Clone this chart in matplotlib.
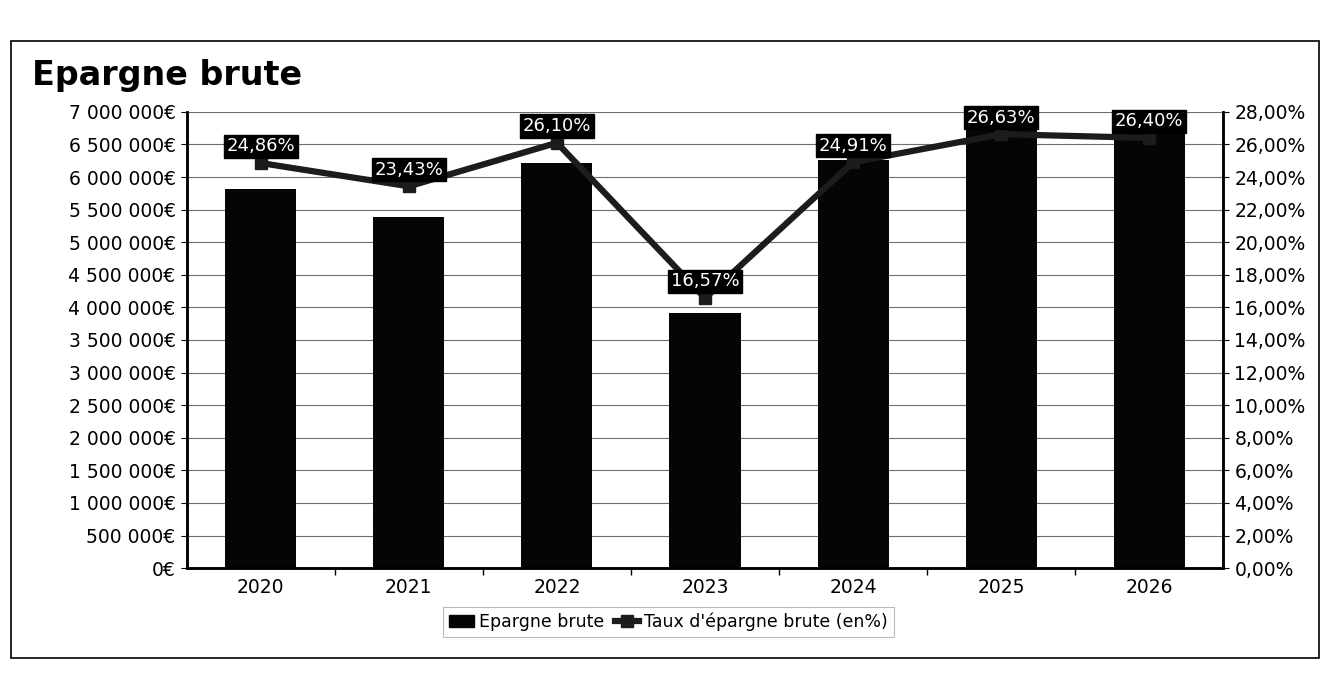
import matplotlib
matplotlib.use("Agg")
import matplotlib.pyplot as plt
from matplotlib.ticker import FuncFormatter, MultipleLocator, FixedLocator
from matplotlib.patches import Rectangle
from matplotlib.lines import Line2D
from matplotlib.patches import Patch

plt.rcParams['font.family'] = ['DejaVu Sans']

years = ["2020", "2021", "2022", "2023", "2024", "2025", "2026"]
epargne_brute = [5820000, 5390000, 6210000, 3920000, 6260000, 7000000, 7000000]
taux_epargne = [24.86, 23.43, 26.10, 16.57, 24.91, 26.63, 26.40]
taux_labels = ["24,86%", "23,43%", "26,10%", "16,57%", "24,91%", "26,63%", "26,40%"]

fig = plt.figure(figsize=(13.24, 6.82), dpi=100)
fig.patch.set_facecolor("white")

# outer frame of the chart
fig.patches.append(Rectangle((0.008, 0.035), 0.988, 0.905, transform=fig.transFigure,
                             fill=False, edgecolor="black", linewidth=1.2))

ax = fig.add_axes([0.141, 0.167, 0.783, 0.669])
x = list(range(len(years)))

ax.bar(x, epargne_brute, width=0.48, color="#050505", zorder=2)
ax.set_xlim(-0.5, len(years) - 0.5)
ax.set_ylim(0, 7000000)
ax.yaxis.set_major_locator(MultipleLocator(500000))

def euro_fmt(v, pos):
    s = f"{int(round(v)):,}".replace(",", " ")
    return s + "€"

ax.yaxis.set_major_formatter(FuncFormatter(euro_fmt))
ax.set_xticks(x)
ax.set_xticklabels(years)
ax.xaxis.set_minor_locator(FixedLocator([i + 0.5 for i in range(len(years) - 1)]))
ax.tick_params(axis="x", which="major", length=0, pad=7, labelsize=13.5)
ax.tick_params(axis="x", which="minor", length=5, width=1, direction="out")
ax.tick_params(axis="y", which="major", length=4, labelsize=13.5, pad=4)
ax.grid(axis="y", color="#6e6e6e", linewidth=0.8, zorder=0)
ax.set_axisbelow(True)
for side in ["left", "bottom", "right"]:
    ax.spines[side].set_linewidth(1.8)
ax.spines["top"].set_visible(False)

ax2 = ax.twinx()
ax2.set_ylim(0, 28)
ax2.yaxis.set_major_locator(MultipleLocator(2))
ax2.yaxis.set_major_formatter(FuncFormatter(lambda v, p: f"{v:.2f}".replace(".", ",") + "%"))
ax2.tick_params(axis="y", length=4, labelsize=13.5, pad=4)
for side in ["left", "bottom", "right"]:
    ax2.spines[side].set_linewidth(1.8)
ax2.spines["top"].set_visible(False)

ax2.plot(x, taux_epargne, color="#1c1c1c", linewidth=4.5, marker="s", markersize=9,
         zorder=3)
for xi, yi, lab in zip(x, taux_epargne, taux_labels):
    ax2.annotate(lab, (xi, yi), xytext=(0, 12), textcoords="offset points",
                 ha="center", va="center", color="white", fontsize=13,
                 bbox=dict(boxstyle="square,pad=0.15", facecolor="black", edgecolor="black"),
                 zorder=5, annotation_clip=False)

fig.text(0.024, 0.89, "Epargne brute", fontsize=24, fontweight="bold", ha="left", va="center")

handles = [Patch(facecolor="#050505", edgecolor="#050505"),
           Line2D([0], [0], color="#1c1c1c", linewidth=4.5, marker="s", markersize=9)]
leg = fig.legend(handles, ["Epargne brute", "Taux d'épargne brute (en%)"],
                 loc="center", bbox_to_anchor=(0.505, 0.088), ncol=2, frameon=True,
                 fancybox=False, edgecolor="#aaaaaa", fontsize=12.5,
                 handlelength=1.4, handletextpad=0.3, columnspacing=0.6, borderpad=0.35)
leg.get_frame().set_linewidth(0.8)

fig.savefig("out.png", dpi=100, facecolor="white")
